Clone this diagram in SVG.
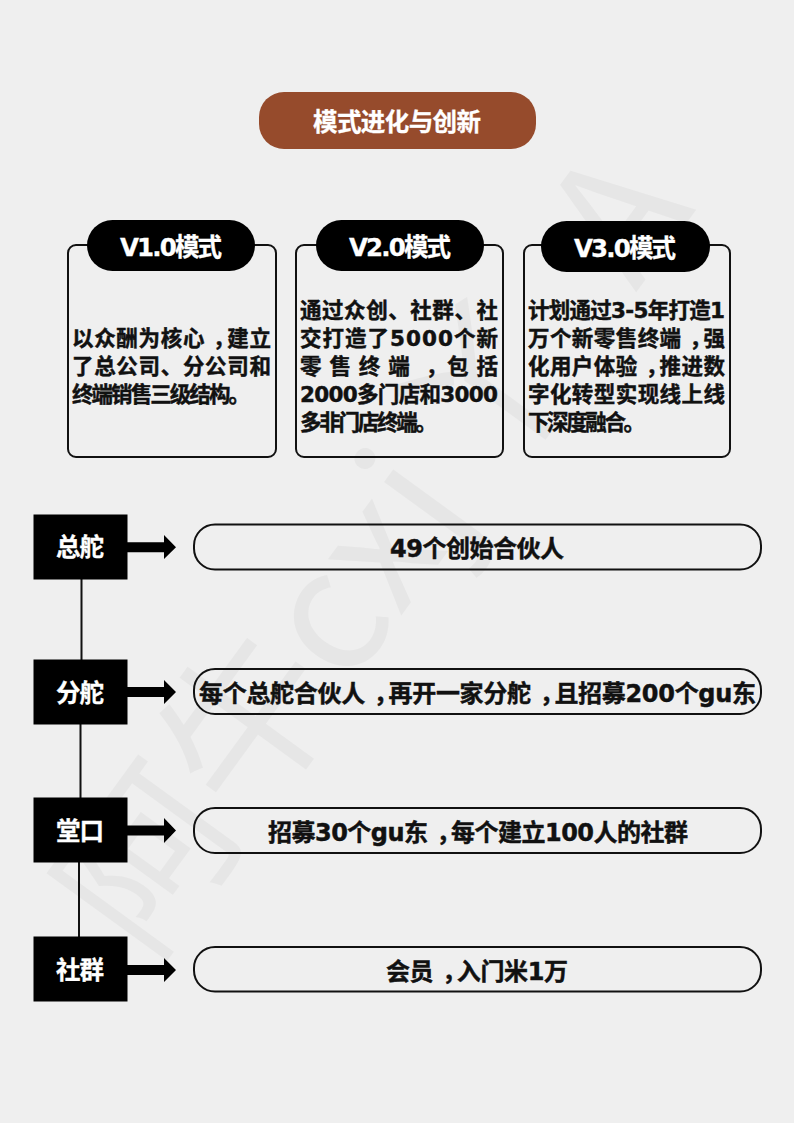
<svg xmlns="http://www.w3.org/2000/svg" width="794" height="1123" viewBox="0 0 794 1123">
<style>
text{font-family:"DejaVu Sans","Noto Sans CJK SC",sans-serif;font-weight:700}
.w{fill:#fff;stroke:#fff;stroke-width:.3}
.k{fill:#111;stroke:#111;stroke-width:.45}
.c{text-anchor:middle}
.h{font-size:24.500px}
.b{font-size:21.500px}
.l{font-size:24px}
.card{fill:none;stroke:#111;stroke-width:2}
.pill{fill:#000}
.sq{fill:#000}
.bar{fill:none;stroke:#111;stroke-width:2}
text.wm{font-family:"Noto Sans CJK SC","DejaVu Sans",sans-serif;font-weight:400;font-size:170px;fill:#e6e6e6}
.ln{stroke:#111;stroke-width:2;fill:none}
.ar{fill:#000}
</style>
<rect width="794" height="1123" fill="#efefef"/>
<text class="wm" transform="translate(148,964) rotate(-54)">阿牛cxj<tspan dx="20">丫</tspan><tspan dx="80">A</tspan></text>

<g id="title"><rect x="259" y="92" width="277" height="57" rx="25" fill="#964b2c"/><text class="w c h" x="397" y="131" textLength="168">模式进化与创新</text></g>

<g id="card-v1">
<rect class="card" x="68" y="245" width="208" height="212" rx="8"/>
<rect class="pill" x="87" y="220" width="168" height="51" rx="25.500"/>
<text class="w c h" x="171" y="256" textLength="102">V1.0模式</text>
<text class="k b" x="72" y="346" textLength="199">以众酬为核心<tspan dx="8">，</tspan><tspan dx="-8">建立</tspan></text>
<text class="k b" x="72" y="374" textLength="199">了总公司、分公司和</text>
<text class="k b" x="72" y="402" textLength="178">终端销售三级结构。</text>
</g>
<g id="card-v2">
<rect class="card" x="296" y="245" width="207" height="212" rx="8"/>
<rect class="pill" x="316" y="220" width="168" height="51" rx="25.500"/>
<text class="w c h" x="400" y="256" textLength="102">V2.0模式</text>
<text class="k b" x="300" y="318" textLength="198">通过众创、社群、社</text>
<text class="k b" x="300" y="346" textLength="198">交打造了5000个新</text>
<text class="k b" x="300" y="374" textLength="198">零售终端<tspan dx="8">，</tspan><tspan dx="-8">包括</tspan></text>
<text class="k b" x="300" y="402" textLength="198">2000多门店和3000</text>
<text class="k b" x="300" y="430" textLength="137">多非门店终端。</text>
</g>
<g id="card-v3">
<rect class="card" x="524" y="245" width="206" height="212" rx="8"/>
<rect class="pill" x="541" y="221" width="169" height="51" rx="25.500"/>
<text class="w c h" x="625" y="257" textLength="102">V3.0模式</text>
<text class="k b" x="528" y="318" textLength="197">计划通过3-5年打造1</text>
<text class="k b" x="528" y="346" textLength="197">万个新零售终端<tspan dx="8">，</tspan><tspan dx="-8">强</tspan></text>
<text class="k b" x="528" y="374" textLength="197">化用户体验<tspan dx="8">，</tspan><tspan dx="-8">推进数</tspan></text>
<text class="k b" x="528" y="402" textLength="197">字化转型实现线上线</text>
<text class="k b" x="528" y="430" textLength="117">下深度融合。</text>
</g>

<g id="connectors">
<path class="ln" d="M81.500 579V660M80.500 724V798M79 862V937"/>
<path class="ar" d="M127 542.300H164V535L176 547.300L164 559V552.300H127Z"/>
<path class="ar" d="M127 687H164V680L176 692L164 704V697H127Z"/>
<path class="ar" d="M127 825.500H164V818L176 830.500L164 843V835.500H127Z"/>
<path class="ar" d="M127 965H164V958L176 970L164 982V975H127Z"/>
</g>

<g id="node-zongduo"><rect class="sq" x="33.500" y="514.500" width="94" height="65"/><text class="w c h" x="80" y="556" textLength="48">总舵</text></g>
<g id="node-fenduo"><rect class="sq" x="33.500" y="659.500" width="94" height="65"/><text class="w c h" x="80" y="702" textLength="48">分舵</text></g>
<g id="node-tangkou"><rect class="sq" x="33.500" y="797.500" width="94" height="65"/><text class="w c h" x="80" y="840" textLength="48">堂口</text></g>
<g id="node-shequn"><rect class="sq" x="33.500" y="936.500" width="94" height="65"/><text class="w c h" x="80" y="979" textLength="48">社群</text></g>

<g id="bar-1"><rect class="bar" x="194" y="524.500" width="567" height="45" rx="21"/><text class="k c l" x="477" y="557" textLength="174">49个创始合伙人</text></g>
<g id="bar-2"><rect class="bar" x="194" y="669" width="567" height="45" rx="21"/><text class="k c l" x="477.500" y="702" textLength="557">每个总舵合伙人<tspan dx="9">，</tspan><tspan dx="-9">再开一家分舵</tspan><tspan dx="9">，</tspan><tspan dx="-9">且招募200个gu东</tspan></text></g>
<g id="bar-3"><rect class="bar" x="194" y="808" width="567" height="45" rx="21"/><text class="k c l" x="478" y="841" textLength="420">招募30个gu东<tspan dx="9">，</tspan><tspan dx="-9">每个建立100人的社群</tspan></text></g>
<g id="bar-4"><rect class="bar" x="194" y="947" width="567" height="44.500" rx="21"/><text class="k c l" x="477" y="980" textLength="182">会员<tspan dx="9">，</tspan><tspan dx="-9">入门米1万</tspan></text></g>
</svg>
